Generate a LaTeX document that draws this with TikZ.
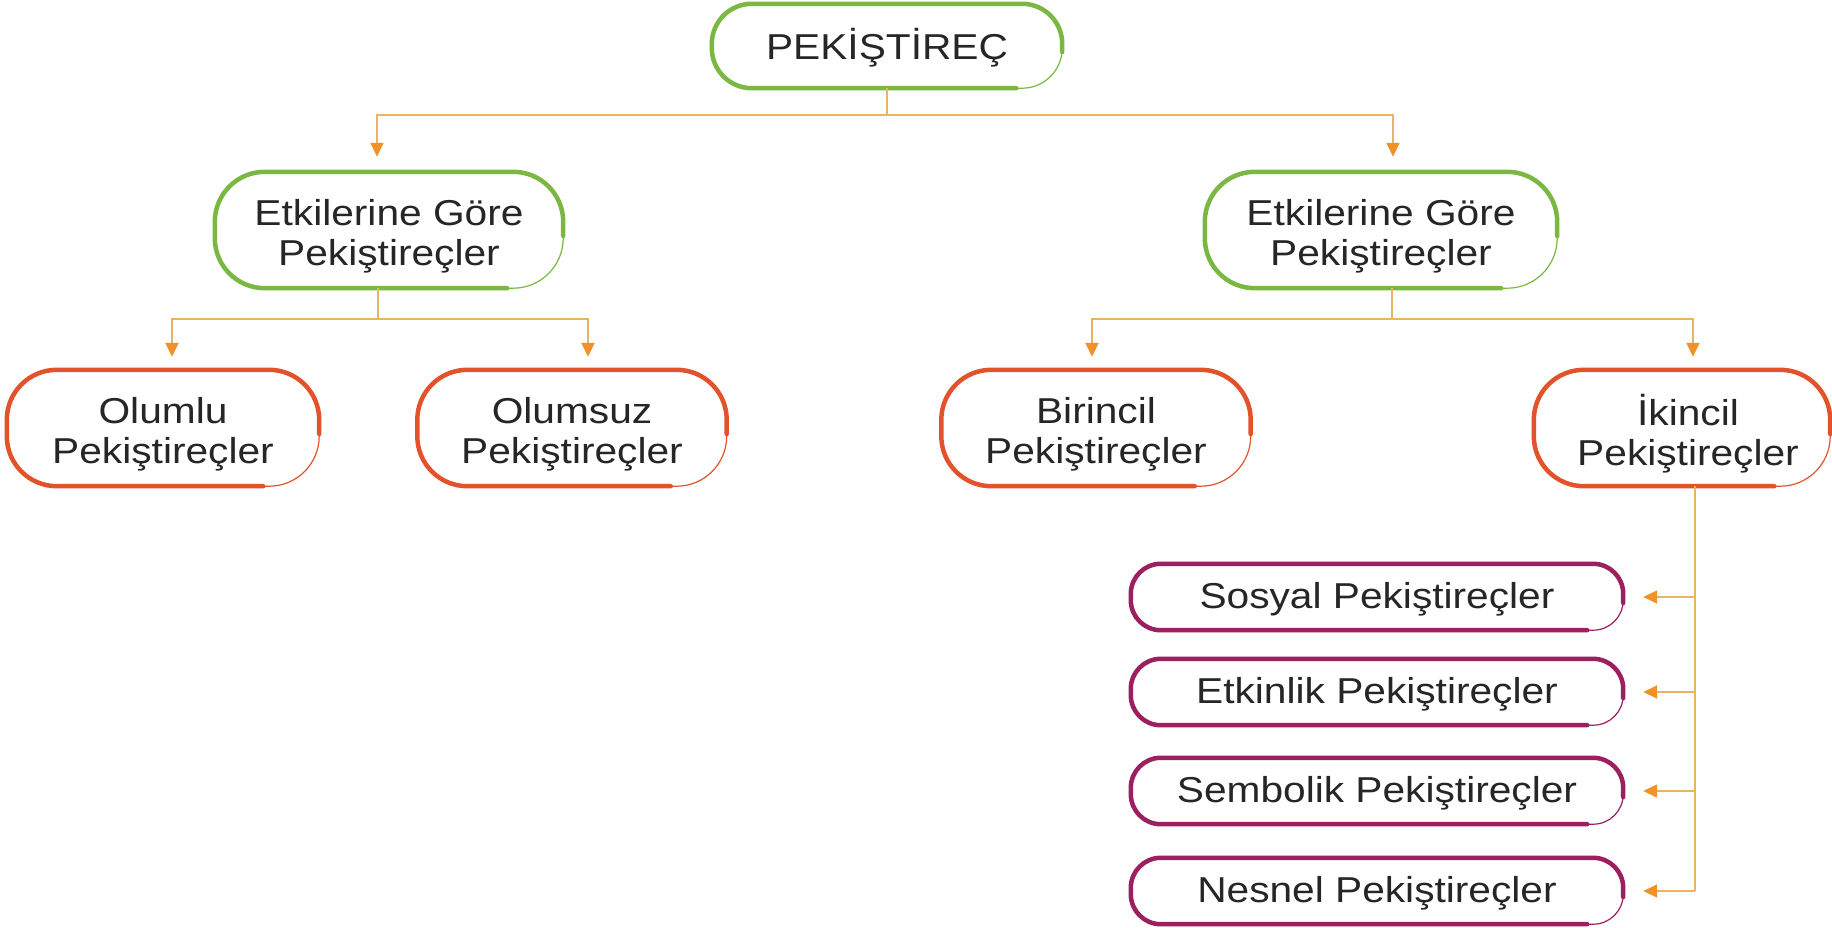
\documentclass[tikz,border=0pt]{standalone}
\usepackage{fontspec}
\setmainfont{Liberation Sans}[FakeStretch=1.13]
\usetikzlibrary{arrows.meta}
\definecolor{grn}{HTML}{7AB743}
\definecolor{org}{HTML}{E2532B}
\definecolor{pur}{HTML}{9C1F5F}
\definecolor{lnc}{HTML}{E9B465}
\definecolor{arc}{HTML}{EF9229}
\definecolor{txt}{HTML}{262626}
% #1 node name, #2 colour, #3 corner radius (number, pt)
\newcommand\skbox[3]{%
  \draw[#2, line width=4.5pt, rounded corners=#3pt, line cap=round]
    ([yshift=-6pt]#1.east) -- (#1.north east) -- (#1.north west)
    -- (#1.south west) -- ([xshift=-#3pt-6pt]#1.south east);
  \draw[#2, line width=1.2pt, rounded corners=#3pt]
    ([xshift=-#3pt-10pt]#1.south east) -- (#1.south east) -- ([yshift=-2pt]#1.east);
}
\begin{document}
\begin{tikzpicture}[x=1pt,y=-1pt,
  box/.style={inner sep=0pt},
  lbl/.style={inner sep=0pt, align=center, text=txt, font=\fontsize{36}{40}\selectfont},
  lbltwo/.style={lbl, yshift=-6pt},
  lblone/.style={lbl, yshift=-2pt},
  ln/.style={lnc, line width=1.8pt},
  arr/.style={ln, -{Triangle[length=14pt,width=13pt,color=arc]}},
]
\useasboundingbox[fill=white] (0,0) rectangle (1832,927);

% box nodes
\node[box, minimum width=350pt, minimum height=84pt] (root) at (887,46) {};
\node[box, minimum width=348pt, minimum height=116pt] (L) at (389,230) {};
\node[box, minimum width=352pt, minimum height=116pt] (R) at (1381,230) {};
\node[box, minimum width=312pt, minimum height=116pt] (olumlu) at (163,428) {};
\node[box, minimum width=309pt, minimum height=116pt] (olumsuz) at (572,428) {};
\node[box, minimum width=309pt, minimum height=116pt] (birincil) at (1096,428) {};
\node[box, minimum width=296pt, minimum height=116pt] (ikincil) at (1682,428) {};
\node[box, minimum width=492pt, minimum height=66pt] (sos) at (1377,597) {};
\node[box, minimum width=492pt, minimum height=66pt] (etk) at (1377,692) {};
\node[box, minimum width=492pt, minimum height=66pt] (sem) at (1377,791) {};
\node[box, minimum width=492pt, minimum height=66pt] (nes) at (1377,891) {};

% texts
\node[lblone] (rootT) at (root) {PEKİŞTİREÇ};
\node[lbltwo] (LT) at (L) {Etkilerine Göre\\Pekiştireçler};
\node[lbltwo] (RT) at (R) {Etkilerine Göre\\Pekiştireçler};
\node[lbltwo] (olumluT) at (olumlu) {Olumlu\\Pekiştireçler};
\node[lbltwo] (olumsuzT) at (olumsuz) {Olumsuz\\Pekiştireçler};
\node[lbltwo] (birincilT) at (birincil) {Birincil\\Pekiştireçler};
\node[lbltwo, xshift=6pt] (ikincilT) at (ikincil) {İkincil\\Pekiştireçler};
\node[lblone] (sosT) at (sos) {Sosyal Pekiştireçler};
\node[lblone] (etkT) at (etk) {Etkinlik Pekiştireçler};
\node[lblone] (semT) at (sem) {Sembolik Pekiştireçler};
\node[lblone] (nesT) at (nes) {Nesnel Pekiştireçler};

% borders
\skbox{root}{grn}{40}
\skbox{L}{grn}{50}
\skbox{R}{grn}{50}
\skbox{olumlu}{org}{50}
\skbox{olumsuz}{org}{50}
\skbox{birincil}{org}{50}
\skbox{ikincil}{org}{50}
\skbox{sos}{pur}{30}
\skbox{etk}{pur}{30}
\skbox{sem}{pur}{30}
\skbox{nes}{pur}{30}

% connectors
\coordinate (j0) at (0,115);
\coordinate (j1) at (0,319);
\draw[ln] (root.south) -- (root.south |- j0);
\draw[arr] (root.south |- j0) -| ([xshift=-12pt,yshift=15pt]L.north);
\draw[arr] (root.south |- j0) -| ([xshift=12pt,yshift=15pt]R.north);

\coordinate (lL) at ([xshift=-11pt]L.south);
\draw[ln] (lL) -- (lL |- j1);
\draw[arr] (lL |- j1) -| ([xshift=9pt,yshift=13pt]olumlu.north);
\draw[arr] (lL |- j1) -| ([xshift=16pt,yshift=13pt]olumsuz.north);

\coordinate (lR) at ([xshift=11pt]R.south);
\draw[ln] (lR) -- (lR |- j1);
\draw[arr] (lR |- j1) -| ([xshift=-4pt,yshift=13pt]birincil.north);
\draw[arr] (lR |- j1) -| ([xshift=11pt,yshift=13pt]ikincil.north);

\coordinate (spine) at ([xshift=13pt]ikincil.south);
\draw[ln] (spine) -- (spine |- nes.east);
\draw[arr] (spine |- sos.east) -- ([xshift=20pt]sos.east);
\draw[arr] (spine |- etk.east) -- ([xshift=20pt]etk.east);
\draw[arr] (spine |- sem.east) -- ([xshift=20pt]sem.east);
\draw[arr] (spine |- nes.east) -- ([xshift=20pt]nes.east);
\end{tikzpicture}
\end{document}
